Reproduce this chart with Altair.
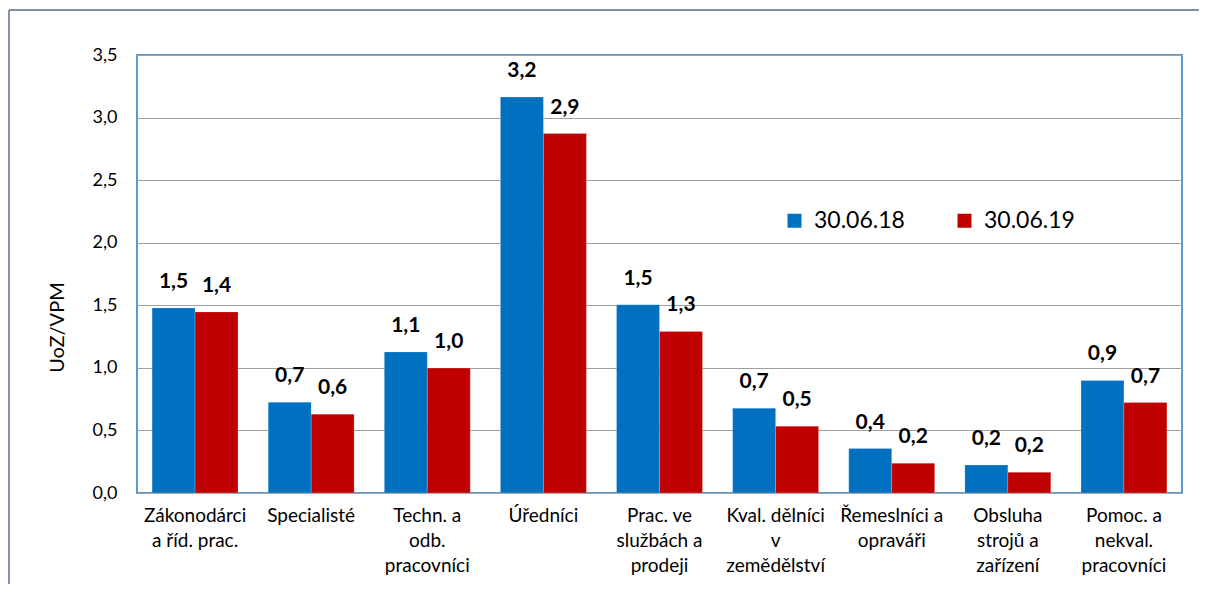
import altair as alt
import pandas as pd

categories = [
    "Zákonodárci\na říd. prac.",
    "Specialisté",
    "Techn. a\nodb.\npracovníci",
    "Úředníci",
    "Prac. ve\nslužbách a\nprodeji",
    "Kval. dělníci\nv\nzemědělství",
    "Řemeslníci a\nopraváři",
    "Obsluha\nstrojů a\nzařízení",
    "Pomoc. a\nnekval.\npracovníci",
]
series = ["30.06.18", "30.06.19"]
values_2018 = [1.479, 0.726, 1.127, 3.165, 1.505, 0.678, 0.355, 0.224, 0.899]
values_2019 = [1.447, 0.630, 0.998, 2.872, 1.291, 0.534, 0.238, 0.165, 0.723]
y_ticks = [0, 0.5, 1.0, 1.5, 2.0, 2.5, 3.0, 3.5]
colors = ["#0070C0", "#C00000"]

rows = []
for c, a, b in zip(categories, values_2018, values_2019):
    rows.append({"cat": c, "series": series[0], "value": a})
    rows.append({"cat": c, "series": series[1], "value": b})
df = pd.DataFrame(rows)

FONT = "Lato"

x_enc = alt.X(
    "cat:N",
    sort=categories,
    scale=alt.Scale(paddingInner=0.26, paddingOuter=0.13),
    axis=alt.Axis(
        title=None,
        labelAngle=0,
        labelExpr="split(datum.label, '\\n')",
        labelFontSize=19,
        labelLineHeight=25,
        labelBaseline="top",
        labelPadding=13,
        labelLimit=200,
        ticks=False,
        domain=False,
        grid=False,
    ),
)
xoff = alt.XOffset("series:N", sort=series, scale=alt.Scale(paddingInner=0, paddingOuter=0))
y_enc = alt.Y(
    "value:Q",
    scale=alt.Scale(domain=[0, 3.5], nice=False),
    axis=alt.Axis(
        values=y_ticks,
        labelExpr="replace(format(datum.value, '.1f'), '.', ',')",
        labelFontSize=18,
        labelPadding=20,
        ticks=False,
        domain=False,
        grid=True,
        gridColor="#A0A0A0",
        gridWidth=1,
        title="UoZ/VPM",
        titleFontSize=20,
        titleFontWeight="normal",
        titleAngle=-90,
        titleX=-80,
        titleY=272,
        titleAlign="center",
        titleBaseline="middle",
    ),
)

bars = alt.Chart(df).mark_bar(stroke="white", strokeWidth=0.5, strokeOpacity=0.4).encode(
    x=x_enc,
    xOffset=xoff,
    y=y_enc,
    color=alt.Color(
        "series:N",
        sort=series,
        scale=alt.Scale(domain=series, range=colors),
        legend=alt.Legend(
            orient="none",
            legendX=646,
            legendY=154,
            direction="horizontal",
            title=None,
            symbolType="square",
            symbolSize=196,
            symbolStrokeWidth=0,
            labelFontSize=23,
            labelFont=FONT,
            labelOffset=8,
            columnPadding=48,
            padding=0,
        ),
    ),
)

labels = (
    alt.Chart(df)
    .transform_calculate(lbl="replace(format(datum.value, '.1f'), '.', ',')")
    .mark_text(dy=-20, baseline="alphabetic", fontWeight="bold", fontSize=21, font=FONT, color="black")
    .encode(x=alt.X("cat:N", sort=categories), xOffset=alt.XOffset("series:N", sort=series), y="value:Q", text="lbl:N")
)

frame_df = pd.DataFrame({"k": [0]})
frame_v = alt.Chart(frame_df).mark_rule(color="#8391A8", strokeWidth=2, clip=False).encode(
    x=alt.value(-128), x2=alt.value(-128), y=alt.value(-45), y2=alt.value(529)
)
frame_h = alt.Chart(frame_df).mark_rule(color="#8391A8", strokeWidth=2, clip=False).encode(
    x=alt.value(-128), x2=alt.value(1062), y=alt.value(-45), y2=alt.value(-45)
)

chart = (
    alt.layer(bars, labels, frame_v, frame_h)
    .properties(
        width=1045,
        height=438,
        autosize=alt.AutoSizeParams(type="none"),
        padding={"left": 129, "top": 47, "right": 18, "bottom": 92},
        background="white",
    )
    .configure_view(stroke="#5B9BD5", strokeWidth=2)
    .configure_axis(labelFont=FONT, titleFont=FONT, labelColor="black", titleColor="black")
    .configure_text(font=FONT)
)

chart.save("out.html", embed_options={"renderer": "svg", "actions": False})
